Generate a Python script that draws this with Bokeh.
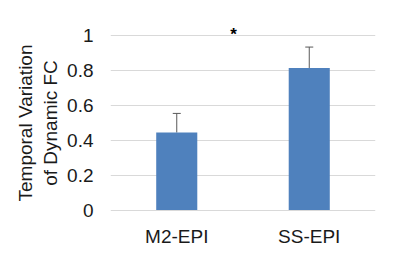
from bokeh.plotting import figure
from bokeh.models import ColumnDataSource, Range1d, FactorRange, Whisker, TeeHead, Label, FixedTicker
from bokeh.embed import file_html
from bokeh.resources import INLINE

categories = ["M2-EPI", "SS-EPI"]
means = [0.445, 0.816]
errors = [0.11, 0.12]
y_ticks = [0, 0.2, 0.4, 0.6, 0.8, 1.0]
y_tick_labels = {0: "0", 0.2: "0.2", 0.4: "0.4", 0.6: "0.6", 0.8: "0.8", 1.0: "1"}
sig_label = "*"
sig_x = 0.928
sig_y = 1.01
y_title = "Temporal Variation\nof Dynamic FC"

FONT = "Liberation Sans"
TXT = "#1a1a1a"

src = ColumnDataSource(dict(
    cat=categories,
    mean=means,
    upper=[m + e for m, e in zip(means, errors)],
))

p = figure(
    x_range=FactorRange(*categories, range_padding=0),
    y_range=Range1d(-0.1, 1.1),
    width=400, height=260,
    min_border_left=110, min_border_right=25,
    min_border_top=18, min_border_bottom=33,
    output_backend="svg", toolbar_location=None,
)
p.outline_line_color = None
p.background_fill_color = "white"
p.border_fill_color = "white"

p.vbar(x="cat", top="mean", bottom=0, width=0.31, source=src,
       fill_color="#4F81BD", line_color=None)

w = Whisker(base="cat", upper="upper", lower="mean", source=src,
            line_color="#595959", line_width=1,
            upper_head=TeeHead(size=8, line_color="#595959", line_width=1),
            lower_head=None)
p.add_layout(w)

p.add_layout(Label(x=sig_x, y=sig_y, text=sig_label, text_font=FONT,
                   text_font_size="17px", text_font_style="bold",
                   text_color="black",
                   text_align="center", text_baseline="middle"))

p.xgrid.grid_line_color = None
p.ygrid.grid_line_color = "#d9d9d9"
p.ygrid.grid_line_width = 1

p.yaxis.ticker = FixedTicker(ticks=y_ticks)
p.yaxis.major_label_overrides = y_tick_labels
for ax in (p.xaxis[0], p.yaxis[0]):
    ax.axis_line_color = None
    ax.major_tick_line_color = None
    ax.minor_tick_line_color = None
    ax.major_tick_out = 0
    ax.major_tick_in = 0
    ax.minor_tick_out = 0
    ax.major_label_text_font = FONT
    ax.major_label_text_font_size = "19px"
    ax.major_label_text_color = TXT

p.xaxis.major_label_standoff = -2
p.yaxis.major_label_standoff = 17
p.yaxis.axis_label = y_title
p.yaxis.axis_label_text_font = FONT
p.yaxis.axis_label_text_font_size = "19px"
p.yaxis.axis_label_text_font_style = "normal"
p.yaxis.axis_label_text_color = TXT
p.yaxis.axis_label_standoff = 3

open("out.html", "w").write(file_html(p, INLINE))
